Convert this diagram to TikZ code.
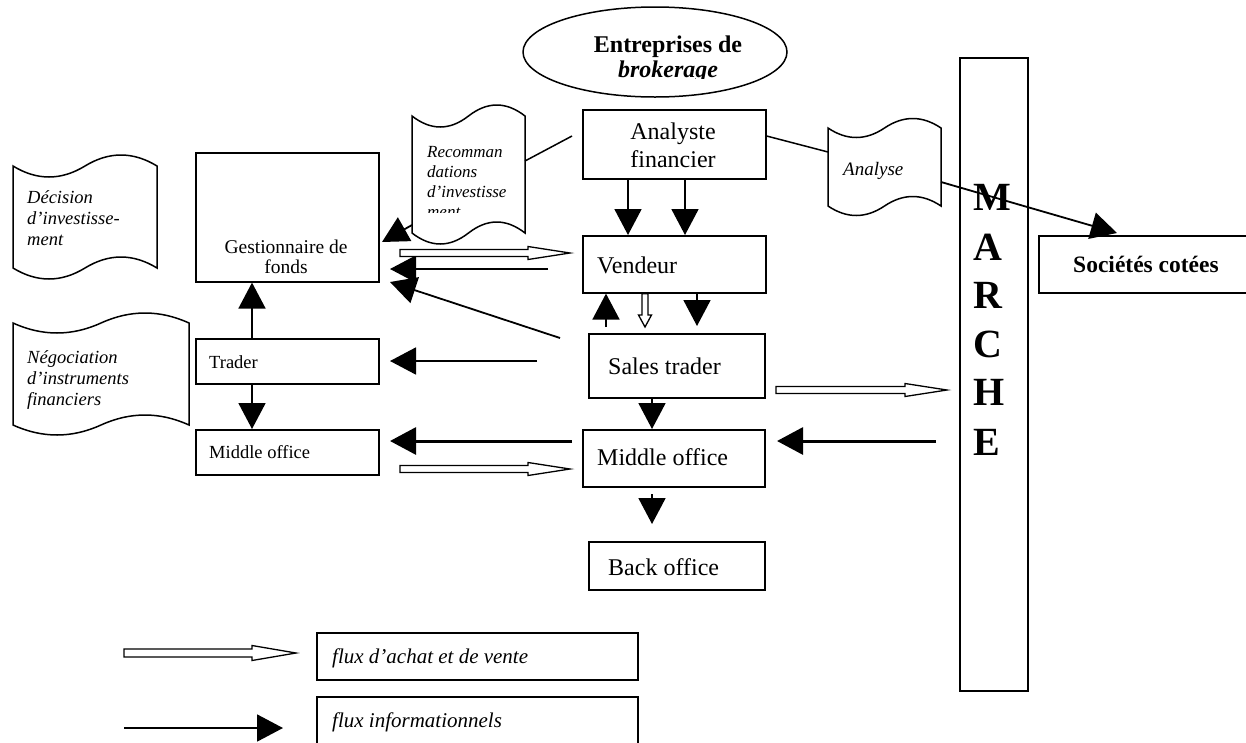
\documentclass[tikz,border=0pt]{standalone}
\usepackage{fontspec}
\setmainfont{Liberation Serif}
\usetikzlibrary{arrows.meta,shapes.geometric,calc}

\newcommand\fsz[1]{\fontsize{#1}{#1}\selectfont}
\tikzset{
  box/.style={draw, line width=1.6pt, rectangle, inner sep=0pt, anchor=north west},
  info/.style={line width=1.8pt, -{Triangle[length=26pt,width=27pt]}},
  thickinfo/.style={info, line width=3pt},
  plainline/.style={line width=1.5pt},
  hollow/.style={draw, line width=1.3pt, fill=white, line join=miter},
  docshape/.style={draw, line width=1.5pt, fill=white},
  txt/.style={inner sep=0pt, anchor=base west},
  ctxt/.style={inner sep=0pt, anchor=base},
}
% box: name, x0, y0, x1, y1 (pixel coordinates, y downwards)
\newcommand\mkbox[5]{\node[box, minimum width={#4-#2}, minimum height={#5-#3}] (#1) at (#2,#3) {};}
% horizontal hollow arrow: start, end, head length, head half width, shaft half width
\newcommand\hollowh[5]{\path[hollow] ([yshift=#5]#1) -- ([xshift=-#3,yshift=#5]#2) -- ([xshift=-#3,yshift=#4]#2) -- (#2) -- ([xshift=-#3,yshift=-#4]#2) -- ([xshift=-#3,yshift=-#5]#2) -- ([yshift=-#5]#1) -- cycle;}
% vertical (downwards) hollow arrow
\newcommand\hollowv[5]{\path[hollow] ([xshift=-#5]#1) -- ([yshift=#3,xshift=-#5]#2) -- ([yshift=#3,xshift=-#4]#2) -- (#2) -- ([yshift=#3,xshift=#4]#2) -- ([yshift=#3,xshift=#5]#2) -- ([xshift=#5]#1) -- cycle;}
% punched tape document: x0, x1, ytop, ybot, amplitude
\newcommand\tape[5]{\path[docshape] (#1,#3)
  .. controls ({#1+(#2-#1)/6},{#3+1.333*#5}) and ({#1+(#2-#1)/3},{#3+1.333*#5}) .. ({(#1+#2)/2},#3)
  .. controls ({#1+2*(#2-#1)/3},{#3-1.333*#5}) and ({#1+5*(#2-#1)/6},{#3-1.333*#5}) .. (#2,#3)
  -- (#2,#4)
  .. controls ({#1+5*(#2-#1)/6},{#4-1.333*#5}) and ({#1+2*(#2-#1)/3},{#4-1.333*#5}) .. ({(#1+#2)/2},#4)
  .. controls ({#1+(#2-#1)/3},{#4+1.333*#5}) and ({#1+(#2-#1)/6},{#4+1.333*#5}) .. (#1,#4)
  -- cycle;}

\begin{document}
\begin{tikzpicture}[x=1pt,y=-1pt]
\useasboundingbox (0,0) rectangle (1246,742);

% ---------- ellipse ----------
\node[draw, ellipse, line width=1.5pt, minimum width=264pt, minimum height=90pt, inner sep=0pt] (brok) at (655,52) {};
\begin{scope}
  \clip (520,0) rectangle (790,78);
  \node[ctxt, font=\fsz{24}\bfseries] (brokA) at (668,52) {Entreprises de};
  \node[ctxt, font=\fsz{24}\bfseries\itshape] (brokB) at (668,77) {brokerage};
\end{scope}

% ---------- boxes ----------
\mkbox{ana}{582}{109}{765}{178}
\mkbox{vend}{582}{235}{765}{292}
\mkbox{sales}{588}{333}{764}{397}
\mkbox{midc}{582}{429}{764}{486}
\mkbox{back}{588}{541}{764}{589}
\mkbox{gest}{195}{152}{378}{281}
\mkbox{trad}{195}{338}{378}{383}
\mkbox{midl}{195}{429}{378}{474}
\mkbox{marche}{959}{57}{1027}{690}
\mkbox{soc}{1038}{235}{1260}{292}
\mkbox{legA}{316}{632}{637}{679}
\mkbox{legB}{316}{696}{637}{760}

% ---------- box texts ----------
\node[ctxt, font=\fsz{24}] (anaT1) at (673,139) {Analyste};
\node[ctxt, font=\fsz{24}] (anaT2) at (673,167) {financier};
\node[txt, font=\fsz{24}] (vendT) at (597,273) {Vendeur};
\node[txt, font=\fsz{24}] (salesT) at (608,374) {Sales trader};
\node[txt, font=\fsz{24}] (midcT) at (597,465) {Middle office};
\node[txt, font=\fsz{24}] (backT) at (608,575) {Back office};
\node[ctxt, font=\fsz{19.5}] (gestT1) at (286,253) {Gestionnaire de};
\node[ctxt, font=\fsz{19.5}] (gestT2) at (286,273) {fonds};
\node[txt, font=\fsz{18.5}] (tradT) at (209,368) {Trader};
\node[txt, font=\fsz{18.5}] (midlT) at (209,458) {Middle office};
\node[txt, font=\fsz{23.5}\bfseries] (socT) at (1073,272) {Sociétés cotées};
\node[txt, font=\fsz{21}\itshape] (legAT) at (332,663) {flux d’achat et de vente};
\node[txt, font=\fsz{21}\itshape] (legBT) at (332,727) {flux informationnels};

% MARCHE letters
\foreach \l/\yy [count=\i] in {M/210,A/260,R/308,C/357,H/405,E/455}
  \node[txt, font=\fsz{40}\bfseries] (mar\i) at (973,\yy) {\l};

% ---------- documents ----------
\tape{13}{157}{166}{268}{11}
\node[txt, font=\fsz{18.5}\itshape] (decA) at (27,203) {Décision};
\node[txt, font=\fsz{18.5}\itshape] (decB) at (27,224) {d’investisse-};
\node[txt, font=\fsz{18.5}\itshape] (decC) at (27,245) {ment};

\tape{13}{189}{323}{425}{10}
\node[txt, font=\fsz{18.5}\itshape] (negA) at (27,363) {Négociation};
\node[txt, font=\fsz{18.5}\itshape] (negB) at (27,384) {d’instruments};
\node[txt, font=\fsz{18.5}\itshape] (negC) at (27,405) {financiers};

\tape{412}{525}{116}{233}{11}
\begin{scope}
  \clip (413,120) rectangle (524,212);
  \node[txt, font=\fsz{17}\itshape] (recA) at (427,157) {Recomman};
  \node[txt, font=\fsz{17}\itshape] (recB) at (427,177) {dations};
  \node[txt, font=\fsz{17}\itshape] (recC) at (427,197) {d’investisse};
  \node[txt, font=\fsz{17}\itshape] (recD) at (427,217) {ment};
\end{scope}

\tape{828}{941}{128}{206}{9.5}
\node[txt, font=\fsz{19}\itshape] (anaDoc) at (843,175) {Analyse};

% ---------- coordinates ----------
\coordinate (recL) at (412,225);
\coordinate (recR) at (525,161);
\coordinate (recT) at (572,136);
\coordinate (gestIn1) at (382,242);
\coordinate (anaDocL) at (828,152);
\coordinate (anaDocR) at (941,182);
\coordinate (socIn) at (1117,233);
\coordinate (upS) at (606,327);
\coordinate (dnE) at (697,326);
\coordinate (bkS) at (652,494);
\coordinate (bkE) at (652,524);
\coordinate (vgS) at (548,269);
\coordinate (vgE) at (390,269);
\coordinate (sgS) at (560,338);
\coordinate (sgE) at (390,282);
\coordinate (stS) at (537,361);
\coordinate (stE) at (390,361);
\coordinate (mmS) at (572,441);
\coordinate (mmE) at (390,441);
\coordinate (mkS) at (936,441);
\coordinate (mkE) at (777,441);
\coordinate (h1s) at (400,253);
\coordinate (h1e) at (570,253);
\coordinate (h2s) at (400,469);
\coordinate (h2e) at (570,469);
\coordinate (h3s) at (776,390);
\coordinate (h3e) at (947,390);
\coordinate (h4e) at (645,327);
\coordinate (lhs) at (124,653);
\coordinate (lhe) at (296,653);
\coordinate (lis) at (124,728);
\coordinate (lie) at (283,728);

% ---------- plain lines ----------
\draw[plainline] (ana.east |- 0,136) -- (anaDocL);
\draw[plainline] (recR) -- (recT);

% ---------- informational arrows ----------
\draw[info] (ana.south -| 628,0) -- (vend.north -| 628,0);
\draw[info] (ana.south -| 685,0) -- (vend.north -| 685,0);
\draw[info] (upS) -- (vend.south -| upS);
\draw[info] (vend.south -| dnE) -- (dnE);
\draw[info] (sales.south -| 652,0) -- (midc.north -| 652,0);
\draw[info] (bkS) -- (bkE);
\draw[info] (vgS) -- (vgE);
\draw[info] (sgS) -- (sgE);
\draw[info] (stS) -- (stE);
\draw[thickinfo] (mmS) -- (mmE);
\draw[thickinfo] (mkS) -- (mkE);
\draw[info] (trad.north -| 252,0) -- (gest.south -| 252,0);
\draw[info] (trad.south -| 252,0) -- (midl.north -| 252,0);
\draw[info] (recL) -- (gestIn1);
\draw[info] (anaDocR) -- (socIn);
\draw[info] (lis) -- (lie);

% ---------- purchase / sale flows ----------
\hollowh{h1s}{h1e}{42pt}{6.5pt}{3.5pt}
\hollowh{h2s}{h2e}{42pt}{6.5pt}{3.5pt}
\hollowh{h3s}{h3e}{42pt}{6.5pt}{3.5pt}
\hollowv{vend.south -| h4e}{h4e}{12pt}{6.5pt}{3pt}
\hollowh{lhs}{lhe}{44pt}{7.5pt}{4pt}

\end{tikzpicture}
\end{document}
